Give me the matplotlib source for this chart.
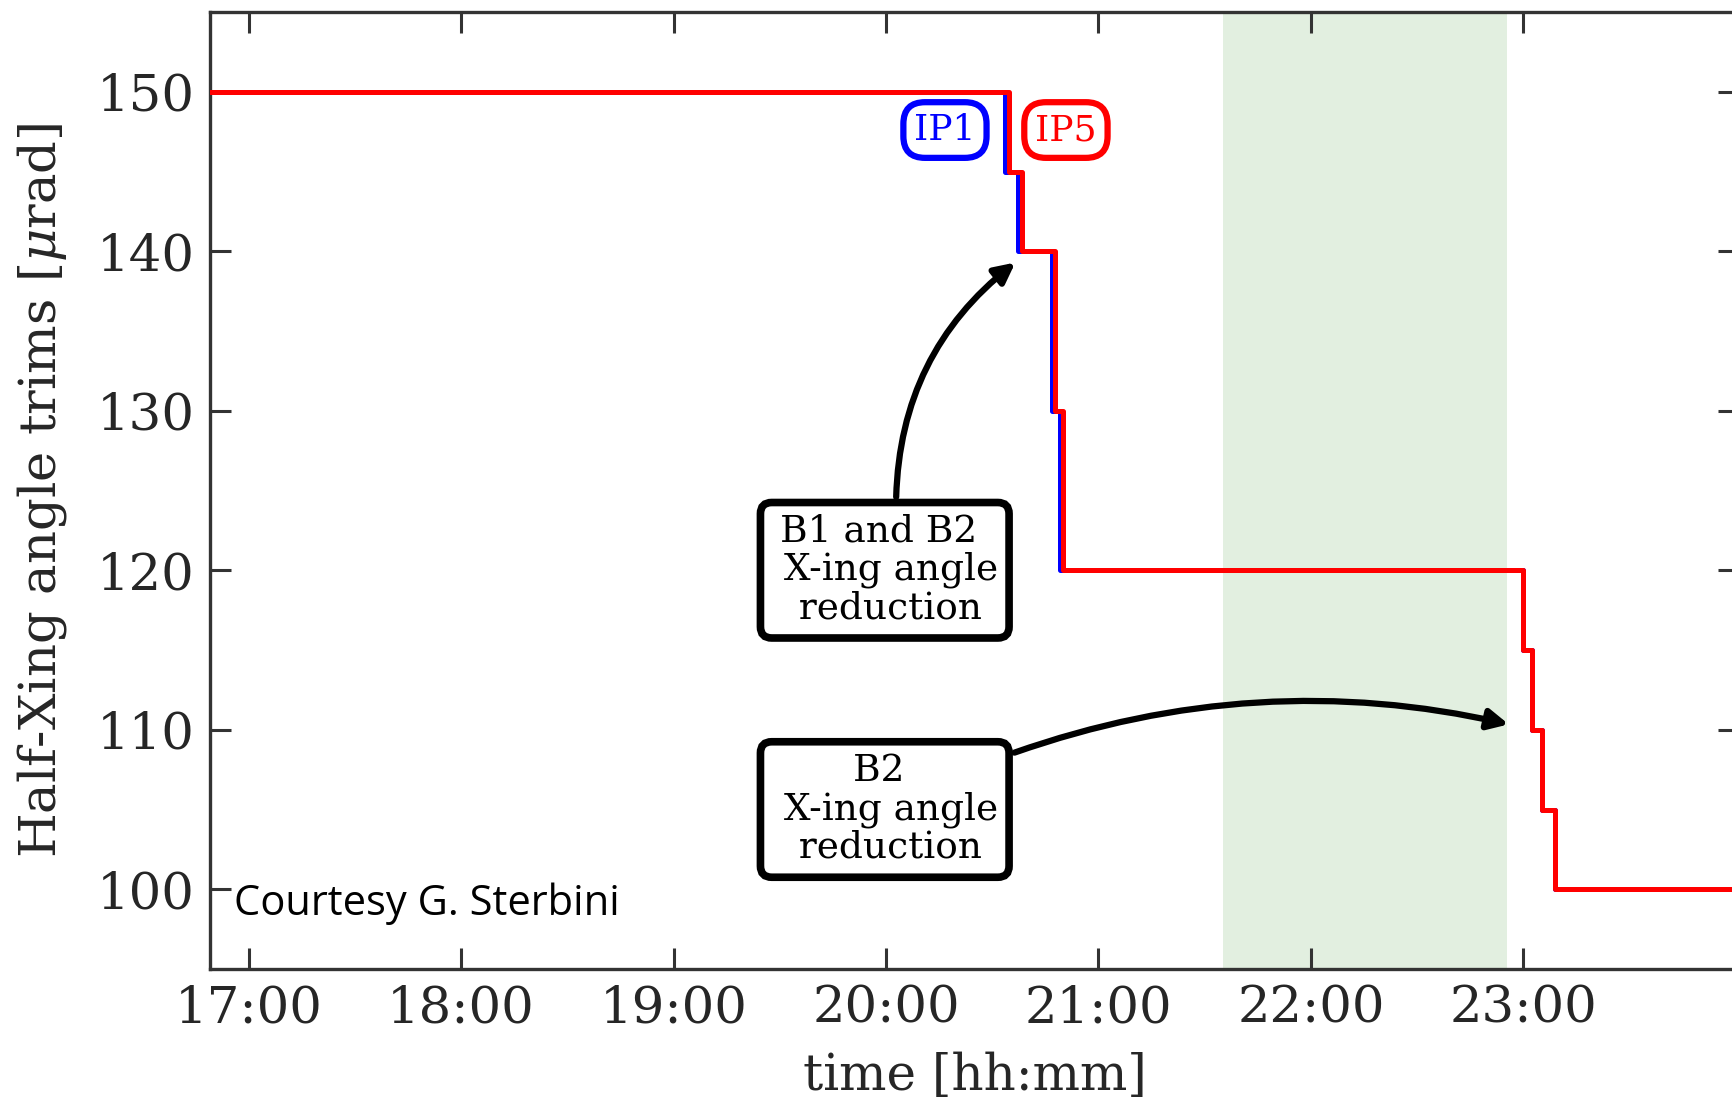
import matplotlib
matplotlib.use("Agg")
import matplotlib.pyplot as plt
import matplotlib.dates as mdates
import pandas as pd

plt.rcParams['font.family'] = 'DejaVu Serif'
plt.rcParams['mathtext.fontset'] = 'dejavuserif'

# step data (value holds until the next time)
ip1_times = ["16:40:00", "20:33:45", "20:37:25", "20:47:00", "20:49:15",
             "23:00:00", "23:02:30", "23:05:25", "23:08:50", "23:59:59"]
ip1_angle = [150, 145, 140, 130, 120, 115, 110, 105, 100, 100]

ip5_times = ["16:40:00", "20:34:50", "20:38:30", "20:47:45", "20:50:00",
             "23:00:00", "23:02:30", "23:05:25", "23:08:50", "23:59:59"]
ip5_angle = [150, 145, 140, 130, 120, 115, 110, 105, 100, 100]

shade_span = ["21:35:15", "22:55:30"]
hour_ticks = ["17:00", "18:00", "19:00", "20:00", "21:00", "22:00", "23:00"]
y_ticks = [100, 110, 120, 130, 140, 150]

day = "2016-10-01 "
def to_dt(lst):
    return pd.to_datetime([day + t for t in lst])

t1 = to_dt(ip1_times)
t5 = to_dt(ip5_times)
span = to_dt(shade_span)
xt = to_dt(hour_ticks)

fig = plt.figure(figsize=(17.32, 11.06), dpi=100)
ax = fig.add_axes([210/1732, 1 - 969/1106, 1.004 - 210/1732, (969-12)/1106])

dark = '#333333'
ax.axvspan(span[0], span[1], color='#e2efe0', zorder=0, lw=0)
ax.step(t1, ip1_angle, where='post', color='#0000ff', lw=3.6, zorder=2)
ax.step(t5, ip5_angle, where='post', color='#ff0000', lw=3.6, zorder=3)

ax.set_xlim(pd.Timestamp(day + "16:49:05"), pd.Timestamp("2016-10-02 00:00:55"))
ax.set_ylim(95, 155)
ax.set_xticks(xt)
ax.xaxis.set_major_formatter(mdates.DateFormatter('%H:%M'))
ax.set_yticks(y_ticks)

for s in ax.spines.values():
    s.set_color(dark)
    s.set_linewidth(2.4)
ax.tick_params(direction='in', length=15, width=2.2, color=dark,
               labelsize=37, labelcolor='#262626', top=True, right=True, pad=11)

ax.set_xlabel('time [hh:mm]', fontsize=36, color='#262626', labelpad=13)
ax.set_ylabel(r'Half-Xing angle trims [$\mu$rad]', fontsize=37, color='#262626', labelpad=20)

# IP labels
ax.text(pd.Timestamp(day + "20:16:40"), 147.6, 'IP1', color='#0000ff', fontsize=26,
        ha='center', va='center',
        bbox=dict(boxstyle='round,pad=0.3,rounding_size=0.6', fc='white', ec='#0000ff', lw=4.5))
ax.text(pd.Timestamp(day + "20:50:50"), 147.6, 'IP5', color='#ff0000', fontsize=26,
        ha='center', va='center',
        bbox=dict(boxstyle='round,pad=0.3,rounding_size=0.6', fc='white', ec='#ff0000', lw=4.5))

box = dict(boxstyle='round,pad=0.3,rounding_size=0.3', fc='white', ec='black', lw=5.5)
ax.annotate('B1 and B2 \n X-ing angle\n reduction',
            xy=(pd.Timestamp(day + "20:37:10"), 139.4),
            xytext=(pd.Timestamp(day + "19:59:40"), 120.0),
            fontsize=27, ha='center', va='center', linespacing=1.08, bbox=box, zorder=5,
            arrowprops=dict(arrowstyle='-|>', color='black', lw=4.5, mutation_scale=30,
                            connectionstyle='arc3,rad=-0.25', relpos=(0.55, 1.0)))
ax.annotate('B2 \n X-ing angle\n reduction',
            xy=(pd.Timestamp(day + "22:56:40"), 110.3),
            xytext=(pd.Timestamp(day + "19:59:40"), 105.0),
            fontsize=27, ha='center', va='center', linespacing=1.08, bbox=box, zorder=5,
            arrowprops=dict(arrowstyle='-|>', color='black', lw=4.5, mutation_scale=30,
                            connectionstyle='arc3,rad=-0.15', relpos=(1.0, 0.95)))

fig.text(234/1732, 1 - 904/1106, 'Courtesy G. Sterbini', family='Open Sans',
         fontsize=30, color='black', ha='left', va='center')

fig.savefig('out.png', dpi=100)
